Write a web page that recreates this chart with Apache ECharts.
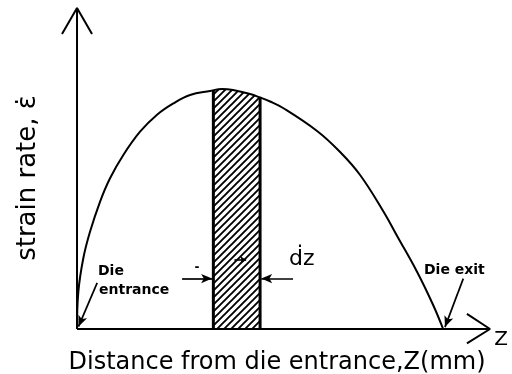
<!DOCTYPE html>
<html>
<head>
<meta charset="utf-8">
<script src="https://cdn.jsdelivr.net/npm/echarts@6/dist/echarts.min.js"></script>
<style>html,body{margin:0;padding:0;background:#fff;}#c{width:512px;height:374px;}</style>
</head>
<body>
<div id="c"></div>
<script>
// Strain-rate curve along the die (arbitrary units: die exit Z = 100, peak strain rate = 100)
const curveZ    = [0, 0.36, 1.72, 3.55, 6.28, 9.02, 12.65, 17.21, 21.78, 26.31, 30.87, 36.34, 39.62, 42.62, 47.27, 50.0, 52.73, 56.28, 65.57, 71.86, 77.32, 83.61, 87.43, 92.90, 97.27, 100];
const curveRate = [0, 15.5, 29.5, 40.5, 53.0, 62.8, 72.5, 82.2, 89.2, 94.0, 97.5, 99.2, 100, 99.58, 97.92, 96.46, 94.79, 92.08, 82.5, 73.75, 64.17, 49.17, 38.75, 23.75, 10.0, 0];
// Hatched slice dz
const sliceZ    = [37.24, 37.24, 39.62, 42.62, 47.27, 50.0, 50.0];
const sliceRate = [0, 99.5, 100, 99.58, 97.92, 96.46, 0];
// Axis extents and arrowheads (data units)
const axisXMin = -10, axisXMax = 112.8, axisYMax = 133.75;
const yArrowZ = [-4.1, 0, 4.1], yArrowR = [122.9, 133.75, 122.9];
const xArrowZ = [106.5, 112.8, 106.5], xArrowR = [6.3, 0, -6.0];
// Annotation arrows [fromZ, fromRate, toZ, toRate]
const arrowEntrance = [5.5, 19.2, 0.4, 1.0];
const arrowExit     = [105.5, 21.0, 100.5, 0.8];
const arrowDzLeft   = [28.7, 21.0, 36.9, 21.0];
const arrowDzRight  = [59.0, 21.0, 50.3, 21.0];
const arrowInside   = [43.0, 28.8, 46.2, 28.8];

const zip = (a, b) => a.map((v, i) => [v, b[i]]);

// hatch pattern
const pc = document.createElement('canvas');
pc.width = 7; pc.height = 7;
const g = pc.getContext('2d');
g.strokeStyle = '#000'; g.lineWidth = 1.9;
g.beginPath();
g.moveTo(-1, 8); g.lineTo(8, -1);
g.moveTo(-1, 1); g.lineTo(1, -1);
g.moveTo(6, 8); g.lineTo(8, 6);
g.stroke();

const chart = echarts.init(document.getElementById('c'), null, {renderer: 'canvas'});
const blackLine = (w) => ({color: '#000', width: w});
function markArrow(a) {
  return [{coord: [a[0], a[1]]}, {coord: [a[2], a[3]]}];
}
const sliceN = sliceZ.length;
chart.setOption({
  animation: false,
  backgroundColor: '#fff',
  grid: {left: 40.4, top: 8, width: 449.6, height: 321},
  xAxis: {type: 'value', min: axisXMin, max: axisXMax, axisLine: {show: false}, axisTick: {show: false}, axisLabel: {show: false}, splitLine: {show: false}},
  yAxis: {type: 'value', min: 0, max: axisYMax, axisLine: {show: false}, axisTick: {show: false}, axisLabel: {show: false}, splitLine: {show: false}},
  series: [
    {type: 'line', data: zip(sliceZ, sliceRate), symbol: 'none', lineStyle: {width: 0}, areaStyle: {color: {image: pc, repeat: 'repeat'}, opacity: 1}, clip: false, z: 2},
    {type: 'line', data: [[sliceZ[0], sliceRate[0]], [sliceZ[1], sliceRate[1]]], symbol: 'none', lineStyle: blackLine(3), clip: false, z: 3},
    {type: 'line', data: [[sliceZ[sliceN - 2], sliceRate[sliceN - 2]], [sliceZ[sliceN - 1], sliceRate[sliceN - 1]]], symbol: 'none', lineStyle: blackLine(3), clip: false, z: 3},
    {type: 'line', data: zip(curveZ, curveRate), smooth: 0.4, symbol: 'none', lineStyle: blackLine(2), clip: false, z: 3},
    {type: 'line', data: [[0, 0], [0, axisYMax]], symbol: 'none', lineStyle: blackLine(2), clip: false, z: 4},
    {type: 'line', data: zip(yArrowZ, yArrowR), symbol: 'none', lineStyle: blackLine(2), clip: false, z: 4},
    {type: 'line', data: [[0, 0], [axisXMax, 0]], symbol: 'none', lineStyle: blackLine(2), clip: false, z: 4},
    {type: 'line', data: zip(xArrowZ, xArrowR), symbol: 'none', lineStyle: blackLine(2), clip: false, z: 4,
      markLine: {
        silent: true, symbol: ['none', 'arrow'], symbolSize: [7, 11], label: {show: false},
        lineStyle: {color: '#000', width: 1.7, type: 'solid'},
        data: [markArrow(arrowEntrance), markArrow(arrowExit), markArrow(arrowDzLeft), markArrow(arrowDzRight)]
      }
    },
    {type: 'line', data: [], symbol: 'none',
      markLine: {
        silent: true, symbol: ['none', 'arrow'], symbolSize: [6, 6], label: {show: false},
        lineStyle: {color: '#000', width: 1.6, type: 'solid'},
        data: [markArrow(arrowInside)]
      }
    }
  ],
  graphic: [
    {type: 'text', x: 28, y: 178, rotation: Math.PI / 2, style: {text: 'strain rate, \u03B5\u0307', font: '26px "DejaVu Sans"', fill: '#000', align: 'center', verticalAlign: 'middle'}},
    {type: 'text', x: 277, y: 363, style: {text: 'Distance from die entrance,Z(mm)', font: '24px "DejaVu Sans"', fill: '#000', align: 'center', verticalAlign: 'middle'}},
    {type: 'text', x: 501, y: 340, style: {text: 'Z', font: '20px "DejaVu Sans"', fill: '#000', align: 'center', verticalAlign: 'middle'}},
    {type: 'text', x: 98, y: 264, style: {text: 'Die', font: 'bold 14px "DejaVu Sans"', fill: '#000', align: 'left', verticalAlign: 'top'}},
    {type: 'text', x: 99, y: 283, style: {text: 'entrance', font: 'bold 14px "DejaVu Sans"', fill: '#000', align: 'left', verticalAlign: 'top'}},
    {type: 'text', x: 424, y: 263, style: {text: 'Die exit', font: 'bold 14px "DejaVu Sans"', fill: '#000', align: 'left', verticalAlign: 'top'}},
    {type: 'text', x: 289, y: 248, style: {text: '\u1E0Bz', font: '22px "DejaVu Sans"', fill: '#000', align: 'left', verticalAlign: 'top'}},
    {type: 'text', x: 197, y: 268, style: {text: '-', font: 'bold 12px "DejaVu Sans"', fill: '#000', align: 'center', verticalAlign: 'middle'}}
  ]
});
</script>
</body>
</html>
